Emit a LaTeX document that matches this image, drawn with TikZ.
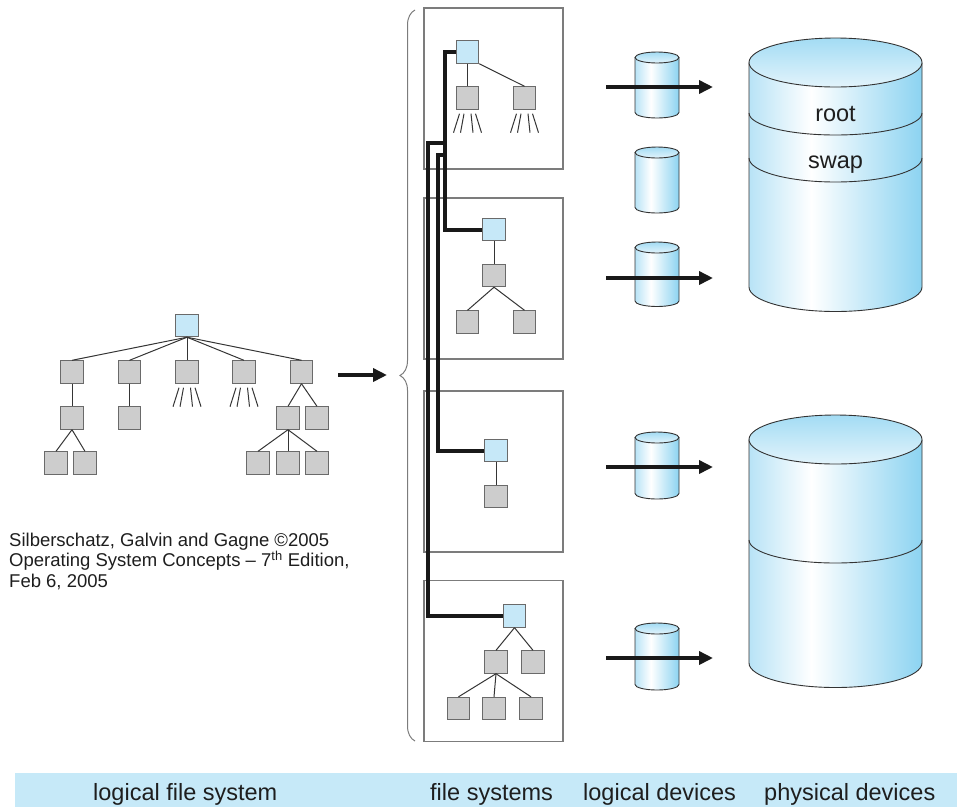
\documentclass[tikz,border=0pt]{standalone}
\usepackage{fontspec}
\setmainfont{Liberation Sans}
\usetikzlibrary{arrows.meta,decorations.pathreplacing}

\definecolor{dirgray}{HTML}{CDCDCD}
\definecolor{rootblue}{HTML}{C6E8F8}
\definecolor{boxline}{HTML}{6A6A6A}
\definecolor{panelline}{HTML}{7C7C7C}
\definecolor{bandblue}{HTML}{C6E9F8}
\definecolor{drumleft}{HTML}{B8E3F6}
\definecolor{drumright}{HTML}{8CD3F1}
\definecolor{ink}{HTML}{1E1E1E}

\pgfdeclarehorizontalshading{drumside}{100bp}{color(0bp)=(drumleft); color(25bp)=(drumleft); color(43bp)=(white); color(75bp)=(drumright); color(100bp)=(drumright)}

\tikzset{
  dirbox/.style={draw=boxline, fill=dirgray, line width=0.9pt, minimum size=22.5pt, inner sep=0pt},
  rootbox/.style={dirbox, fill=rootblue},
  panel/.style={draw=panelline, line width=1.1pt, fill=white, minimum width=139pt, minimum height=161pt, inner sep=0pt},
  link/.style={draw=ink!90, line width=1pt},
  trunk/.style={draw=black!90, line width=4pt},
  devarrow/.style={draw=black!90, line width=4pt, -{Triangle[length=14pt,width=13pt]}},
  drumline/.style={draw=black!80, line width=0.9pt},
  drumtop/.style={top color=drumright!80, bottom color=drumleft!40, draw=black!80, line width=0.9pt},
  bracestyle/.style={draw=panelline, line width=1pt, decorate, decoration={brace, amplitude=15pt}},
  bandtext/.style={text=ink, inner sep=0pt, font=\fontsize{23.5}{28}\selectfont},
  notetext/.style={text=ink, inner sep=0pt, align=left, font=\fontsize{18.5}{20.5}\selectfont}
}

% four slanted strokes under a directory
\def\fan(#1){\foreach \ax/\dx in {-8/-6,-3.5/-3.5,3.5/2,8/6}
  \draw[link] (#1.south) ++(\ax,4) -- ++(\dx,19);}
% cylinder: centre x, top y, bottom y, radii
\def\drum(#1)(#2:#3:#4:#5){
  \shade[shading=drumside] (#1-#4,#2) -- (#1-#4,#3) arc[start angle=180,end angle=0,x radius=#4,y radius=#5] -- (#1+#4,#2) -- cycle;
  \draw[drumline] (#1-#4,#2) -- (#1-#4,#3) arc[start angle=180,end angle=0,x radius=#4,y radius=#5] -- (#1+#4,#2);
  \shadedraw[drumtop] (#1,#2) ellipse[x radius=#4,y radius=#5];}

\begin{document}
\begin{tikzpicture}[x=1pt,y=-1pt]
	%%%%% START %%%%%
	\useasboundingbox (0,0) rectangle (957,807);

	% logical file system
	\node[rootbox] (root) at (187,325.5) {};
	\node[dirbox] (la) at (72,372) {};
	\node[dirbox] (lb) at (129.5,372) {};
	\node[dirbox] (lc) at (187,372) {};
	\node[dirbox] (ld) at (244,372) {};
	\node[dirbox] (le) at (301.5,372) {};
	\node[dirbox] (laa) at (72,418) {};
	\node[dirbox] (lba) at (129.5,418) {};
	\node[dirbox] (lea) at (288,418) {};
	\node[dirbox] (leb) at (317,418) {};
	\node[dirbox] (laaa) at (56,463) {};
	\node[dirbox] (laab) at (85,463) {};
	\node[dirbox] (leaa) at (258,463) {};
	\node[dirbox] (leab) at (288,463) {};
	\node[dirbox] (leac) at (317,463) {};

	\foreach \kid in {la,lb,lc,ld,le}
		\draw[link] (root.south) -- (\kid.north);
	\draw[link] (la.south) -- (laa.north);
	\draw[link] (lb.south) -- (lba.north);
	\draw[link] (le.south) -- (lea.north);
	\draw[link] (le.south) -- (leb.north);
	\draw[link] (laa.south) -- (laaa.north);
	\draw[link] (laa.south) -- (laab.north);
	\foreach \kid in {leaa,leab,leac}
		\draw[link] (lea.south) -- (\kid.north);
	\fan(lc) \fan(ld)

	\coordinate (treeout) at (338,375);
	\coordinate (bracetip) at (387,375);
	\draw[devarrow] (treeout) -- (bracetip);
	\draw[bracestyle] (415,741) -- (415,10);

	% file systems
	\node[panel] (fs1) at (493.5,88.5) {};
	\node[panel] (fs2) at (493.5,278.5) {};
	\node[panel] (fs3) at (493.5,471.5) {};
	\node[panel] (fs4) at (493.5,661) {};

	\node[rootbox] (ar) at (467.5,52) {};
	\node[dirbox] (aa) at (467.5,98) {};
	\node[dirbox] (ab) at (524.5,98) {};
	\draw[link] (ar.south) -- (aa.north);
	\draw[link] (ar.south east) -- (ab.north);
	\fan(aa) \fan(ab)

	\node[rootbox] (br) at (494,229.5) {};
	\node[dirbox] (ba) at (494,275.5) {};
	\node[dirbox] (bb) at (467.5,322) {};
	\node[dirbox] (bc) at (524.5,322) {};
	\draw[link] (br.south) -- (ba.north);
	\draw[link] (ba.south) -- (bb.north);
	\draw[link] (ba.south) -- (bc.north);

	\node[rootbox] (cr) at (496,450.5) {};
	\node[dirbox] (ca) at (496,496.5) {};
	\draw[link] (cr.south) -- (ca.north);

	\node[rootbox] (dr) at (514.5,616) {};
	\node[dirbox] (da) at (496,662) {};
	\node[dirbox] (db) at (533,662) {};
	\node[dirbox] (dc) at (458.5,708.5) {};
	\node[dirbox] (dd) at (494,708.5) {};
	\node[dirbox] (de) at (531,708.5) {};
	\draw[link] (dr.south) -- (da.north);
	\draw[link] (dr.south) -- (db.north);
	\foreach \kid in {dc,dd,de}
		\draw[link] (da.south) -- (\kid.north);

	% mounts
	\draw[trunk] (ar.west) -- ++(-11,0) |- (br.west);
	\coordinate (jd) at (445,143);
	\coordinate (jc) at (445,155);
	\draw[trunk] (jd) -- ++(-17,0) |- (dr.west);
	\draw[trunk] (jc) -- ++(-7,0) |- (cr.west);

	% logical devices
	\drum(657)(57.5:112.5:22:5.5)
	\drum(657)(152.5:207.5:22:5.5)
	\drum(657)(247.5:301:22:5.5)
	\drum(657)(437.5:493.5:22:5.5)
	\drum(657)(628.5:684.5:22:5.5)

	% physical devices
	\drum(835.5)(62.5:287:86.5:24.5)
	\draw[drumline] (749,113) arc[start angle=180,end angle=0,x radius=86.5,y radius=22];
	\draw[drumline] (749,158) arc[start angle=180,end angle=0,x radius=86.5,y radius=24];
	\node[bandtext, anchor=base] (root-part) at (835.5,121.5) {root};
	\node[bandtext, anchor=base] (swap-part) at (835.5,168) {swap};

	\drum(835.5)(439.5:663:86.5:24.5)
	\draw[drumline] (749,540) arc[start angle=180,end angle=0,x radius=86.5,y radius=23];

	\foreach \y [count=\i] in {87,278,467,658}{
		\coordinate (from\i) at (606,\y);
		\coordinate (to\i) at (713,\y);
		\draw[devarrow] (from\i) -- (to\i);
	}

	\node[notetext, anchor=base west] (credit) at (9,587) {Silberschatz, Galvin and Gagne ©2005\\Operating System Concepts – 7\textsuperscript{th} Edition,\\Feb 6, 2005};

	% captions
	\fill[bandblue] (15,773) rectangle (957,807);
	\node[bandtext, anchor=base west] (cap-lfs) at (93,800) {logical file system};
	\node[bandtext, anchor=base west] (cap-fs) at (430,800) {file systems};
	\node[bandtext, anchor=base west] (cap-ld) at (583,800) {logical devices};
	\node[bandtext, anchor=base west] (cap-pd) at (764,800) {physical devices};

	%%%%% END %%%%%
\end{tikzpicture}
\end{document}
